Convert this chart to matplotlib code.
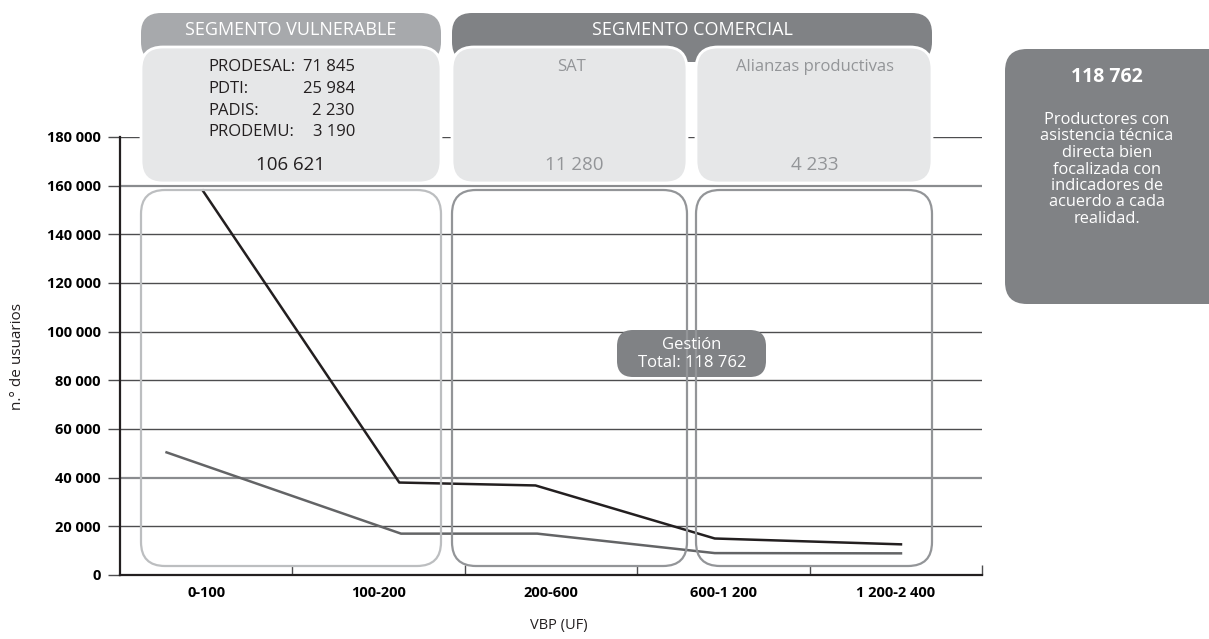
import matplotlib
matplotlib.use("Agg")
import matplotlib.pyplot as plt
from matplotlib.patches import FancyBboxPatch

plt.rcParams['font.family'] = ['Open Sans', 'DejaVu Sans']

# Tramos de VBP y usuarios
tramos = ['0-100', '100-200', '200-600', '600-1 200', '1 200-2 400']
y_ticks = [0, 20000, 40000, 60000, 80000, 100000, 120000, 140000, 160000, 180000]

# posición de cada punto sobre el eje de tramos (0 = primer tramo)
pos_negra = [-0.02, 1.12, 1.91, 2.95, 4.03]
usuarios_negra = [158000, 38000, 36800, 15000, 12600]
pos_gris = [-0.23, 1.13, 1.92, 2.95, 4.03]
usuarios_gris = [50400, 17000, 17000, 9000, 8900]

programas = ['PRODESAL:', 'PDTI:', 'PADIS:', 'PRODEMU:']
prog_valores = ['71 845', '25 984', '2 230', '3 190']
total_vulnerable = '106 621'
total_sat = '11 280'
total_alianzas = '4 233'
total_gestion = '118 762'


def fmt_miles(v):
    return '{:,}'.format(v).replace(',', ' ')


W, H = 1209, 639
fig = plt.figure(figsize=(W / 100, H / 100), dpi=100)
ax = fig.add_axes([120 / W, 64 / H, 862 / W, 438 / H])

# líneas de cuadrícula (dos de ellas en gris)
for v in y_ticks[1:]:
    if v in (40000, 160000):
        ax.axhline(v, color='#8a8c8f', lw=1.6, zorder=1)
    else:
        ax.axhline(v, color='#4d4d4f', lw=1.0, zorder=1)

ax.plot(pos_gris, usuarios_gris, color='#636466', lw=1.8, zorder=3)
ax.plot(pos_negra, usuarios_negra, color='#231f20', lw=1.8, zorder=3)

ax.set_xlim(-0.5, 4.5)
ax.set_ylim(0, 180000)
ax.set_yticks(y_ticks)
ax.set_yticklabels([fmt_miles(v) for v in y_ticks], fontweight='bold', fontsize=10.5)
ax.tick_params(axis='y', direction='out', length=9, width=1, color='#4d4d4f', pad=5)

ax.set_xticks([0.5, 1.5, 2.5, 3.5, 4.5])
ax.set_xticklabels([])
ax.tick_params(axis='x', which='major', direction='in', length=7, width=1, color='#4d4d4f')
ax.set_xticks(range(len(tramos)), minor=True)
ax.set_xticklabels(tramos, minor=True, fontweight='bold', fontsize=10.5)
ax.tick_params(axis='x', which='minor', length=0, pad=8)

for s in ('top', 'right'):
    ax.spines[s].set_visible(False)
ax.spines['left'].set_linewidth(1.6)
ax.spines['bottom'].set_linewidth(1.6)
ax.spines['left'].set_color('#231f20')
ax.spines['bottom'].set_color('#231f20')
ax.set_facecolor('none')

# capa superior en píxeles para los paneles
ov = fig.add_axes([0, 0, 1, 1], zorder=2)
ov.set_xlim(0, W)
ov.set_ylim(H, 0)
ov.axis('off')
ov.patch.set_alpha(0)


def caja(x0, y0, x1, y1, r, fc, ec='none', lw=0, z=1):
    ov.add_patch(FancyBboxPatch((x0, y0), x1 - x0, y1 - y0,
                                boxstyle='round,pad=0,rounding_size=%d' % r,
                                fc=fc, ec=ec, lw=lw, zorder=z))


# cabeceras de segmento
caja(141, 13, 441, 62, 20, '#a7a9ac')
caja(452, 13, 932, 62, 20, '#808285')
ov.text(291, 30, 'SEGMENTO VULNERABLE', color='white', fontsize=13, ha='center', va='center', zorder=5)
ov.text(692, 30, 'SEGMENTO COMERCIAL', color='white', fontsize=13, ha='center', va='center', zorder=5)

# paneles claros con los programas
for x0, x1 in [(141, 441), (452, 687), (696, 932)]:
    caja(x0, 47, x1, 183, 22, '#e6e7e8', ec='white', lw=2, z=2)

for i, (p, v) in enumerate(zip(programas, prog_valores)):
    yy = 67 + i * 21.8
    ov.text(208, yy, p, color='#231f20', fontsize=12, ha='left', va='center', zorder=5)
    ov.text(355, yy, v, color='#231f20', fontsize=12, ha='right', va='center', zorder=5)
ov.text(291, 165, total_vulnerable, color='#231f20', fontsize=13.5, ha='center', va='center', zorder=5)

ov.text(571, 67, 'SAT', color='#939598', fontsize=12, ha='center', va='center', zorder=5)
ov.text(574, 165, total_sat, color='#939598', fontsize=13.5, ha='center', va='center', zorder=5)
ov.text(815, 67, 'Alianzas productivas', color='#939598', fontsize=12, ha='center', va='center', zorder=5)
ov.text(815, 165, total_alianzas, color='#939598', fontsize=13.5, ha='center', va='center', zorder=5)

# cajas de contorno por programa
caja(617, 330, 766, 377, 16, '#808285', z=2)
ov.text(692, 345, 'Gestión', color='white', fontsize=12, ha='center', va='center', zorder=5)
ov.text(692, 363, 'Total: ' + total_gestion, color='white', fontsize=12, ha='center', va='center', zorder=5)

caja(141, 190, 441, 566, 24, 'none', ec='#bcbec0', lw=1.6, z=3)
caja(452, 190, 687, 566, 24, 'none', ec='#939598', lw=1.6, z=3)
caja(696, 190, 932, 566, 24, 'none', ec='#939598', lw=1.6, z=3)

# recuadro lateral
caja(1005, 49, 1240, 304, 22, '#808285', z=2)
ov.text(1107, 77, total_gestion, color='white', fontsize=14, fontweight='bold', ha='center', va='center', zorder=5)
texto = ['Productores con', 'asistencia técnica', 'directa bien', 'focalizada con',
         'indicadores de', 'acuerdo a cada', 'realidad.']
for i, t in enumerate(texto):
    ov.text(1107, 120 + i * 16.5, t, color='white', fontsize=11.8, ha='center', va='center', zorder=5)

# títulos de ejes
ov.text(18, 356, 'n.° de usuarios', color='#231f20', fontsize=11, rotation=90, ha='center', va='center')
ov.text(559, 625, 'VBP (UF)', color='#231f20', fontsize=10.5, ha='center', va='center')

fig.savefig('out.png', dpi=100)
